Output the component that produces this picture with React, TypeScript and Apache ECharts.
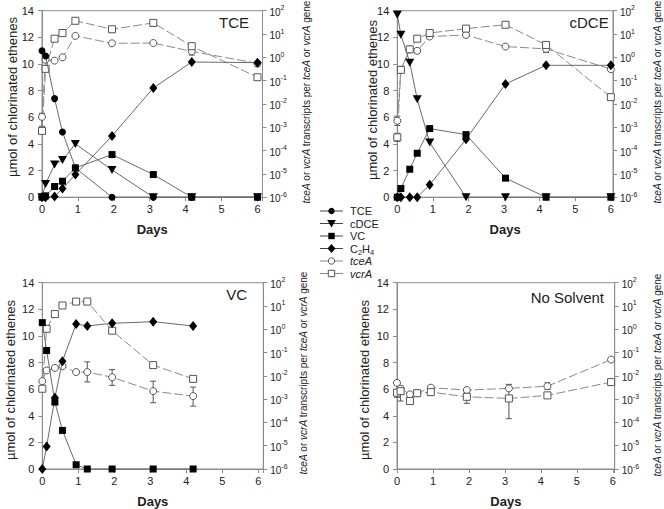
import React, { useEffect, useRef } from "react";
import * as echarts from "echarts";

// ---------- data ----------
const panelTitles = ["TCE", "cDCE", "VC", "No Solvent"];
const seriesNames = ["TCE", "cDCE", "VC", "C2H4", "tceA", "vcrA"];
const leftTicks = [0, 2, 4, 6, 8, 10, 12, 14];

// Panel 1: TCE
const days1 = [0, 0.1, 0.35, 0.57, 0.93, 1.95, 3.1, 4.17, 6.0];
const p1TCE = [11.0, 10.6, 7.4, 4.9, 2.2, 0, 0, 0, 0];
const p1cDCE = [0, 1.0, 2.45, 2.8, 4.0, 2.05, 0, 0, 0];
const p1VC = [0, 0.1, 0.8, 1.2, 2.2, 3.2, 1.7, 0, 0];
const p1C2H4 = [0, 0, 0.05, 0.65, 1.7, 4.6, 8.2, 10.15, 10.1];
const p1tceA = [2.8e-3, 0.8, 0.72, 1.0, 8.3, 4.0, 4.1, 1.8, 0.55];
const p1vcrA = [7e-4, 0.32, 6.3, 11, 37, 16, 30, 3.0, 0.14];
const p1tceAErr = [[0, 1.1e-3, 4e-3], [4.17, 1.25, 2.5], [6.0, 0.4, 0.65]];
const p1vcrAErr = [[3.1, 22, 38]];

// Panel 2: cDCE
const days2 = [0, 0.1, 0.35, 0.56, 0.91, 1.93, 3.04, 4.18, 6.0];
const p2cDCE = [13.7, 12.2, 10.1, 7.35, 4.1, 0, 0, 0, 0];
const p2VC = [0, 0.65, 2.1, 3.3, 5.15, 4.7, 1.43, 0, 0];
const p2C2H4 = [0, 0, 0, 0, 0.93, 4.35, 8.5, 9.9, 9.9];
const p2tceA = [1.9e-3, 0.29, 2.2, 1.9, 7.8, 9.1, 2.9, 2.3, 0.31];
const p2vcrA = [3.7e-4, 0.29, 2.2, 6.3, 11, 17, 25, 3.4, 0.0195];
const p2tceAErr = [[0, 1.2e-3, 3e-3], [0.56, 1.5, 2.4], [4.18, 1.6, 3.2]];
const p2vcrAErr = [[0, 2.5e-4, 5.5e-4]];

// Panel 3: VC
const days3 = [0, 0.12, 0.35, 0.56, 0.94, 1.25, 1.94, 3.08, 4.19];
const p3VC = [11.0, 8.9, 5.03, 2.9, 0.32, 0, 0, 0, 0];
const p3C2H4 = [0, 1.7, 5.35, 8.1, 10.9, 10.75, 10.95, 11.07, 10.75];
const p3tceA = [5.9e-3, 0.017, 0.022, 0.026, 0.0145, 0.0145, 8.7e-3, 2.2e-3, 1.35e-3];
const p3vcrA = [2.8e-3, 1.05, 4.5, 10.5, 15.5, 15.5, 0.87, 0.029, 7.4e-3];
const p3tceAErr = [[1.25, 5.5e-3, 0.04], [1.94, 3.9e-3, 0.0186], [3.08, 7e-4, 5.9e-3], [4.19, 5e-4, 3.3e-3]];
const p3vcrAErr = [[4.19, 5.5e-3, 9.5e-3]];

// Panel 4: No Solvent
const days4 = [0, 0.1, 0.36, 0.56, 0.94, 1.94, 3.11, 4.18, 5.95];
const p4tceA = [5.0e-3, 2.8e-3, 1.6e-3, 1.8e-3, 3.1e-3, 2.45e-3, 2.9e-3, 3.6e-3, 0.05];
const p4vcrA = [1.9e-3, 2.2e-3, 8.3e-4, 1.8e-3, 2.0e-3, 1.26e-3, 1.07e-3, 1.45e-3, 5.4e-3];
const p4tceAErr = [[4.18, 2.6e-3, 5e-3], [0.94, 2.5e-3, 3.8e-3], [0, 4e-3, 6.2e-3]];
const p4vcrAErr = [[3.11, 1.45e-4, 4.3e-3], [1.94, 6.6e-4, 1.9e-3], [0.1, 8.3e-4, 3.6e-3], [0, 1.2e-3, 2.6e-3], [0.94, 1.5e-3, 2.6e-3]];

// ---------- styles ----------
const FONT = "Liberation Sans, Arial, Helvetica, sans-serif";
const AXIS_COLOR = "#8c8c8c";
const LINE_COLOR = "#6b6b6b";
const DASH_COLOR = "#8a8a8a";
const OPEN_BORDER = "#555";

type Sty = { symbol: string; size: any; rotate?: number; open: boolean };
const styles: Record<string, Sty> = {
  TCE: { symbol: "circle", size: 7, open: false },
  cDCE: { symbol: "triangle", size: [9, 8], rotate: 180, open: false },
  VC: { symbol: "rect", size: 7, open: false },
  C2H4: { symbol: "diamond", size: [8, 10], open: false },
  tceA: { symbol: "circle", size: 7, open: true },
  vcrA: { symbol: "rect", size: 7, open: true },
};

const grids = [
  { left: 42, top: 10.7, width: 220.5, height: 186.5, xMax: 6.14 },
  { left: 397.3, top: 10.7, width: 215.7, height: 186.5, xMax: 6.06 },
  { left: 42.3, top: 282.7, width: 221, height: 187.3, xMax: 6.14 },
  { left: 397, top: 282.7, width: 217.7, height: 187.3, xMax: 6.05 },
];

type PanelData = {
  days: number[];
  left: [string, number[]][];
  right: [string, number[]][];
  err: [string, number[][]][];
};

const panels: PanelData[] = [
  {
    days: days1,
    left: [["TCE", p1TCE], ["cDCE", p1cDCE], ["VC", p1VC], ["C2H4", p1C2H4]],
    right: [["tceA", p1tceA], ["vcrA", p1vcrA]],
    err: [["tceA", p1tceAErr], ["vcrA", p1vcrAErr]],
  },
  {
    days: days2,
    left: [["cDCE", p2cDCE], ["VC", p2VC], ["C2H4", p2C2H4]],
    right: [["tceA", p2tceA], ["vcrA", p2vcrA]],
    err: [["tceA", p2tceAErr], ["vcrA", p2vcrAErr]],
  },
  {
    days: days3,
    left: [["VC", p3VC], ["C2H4", p3C2H4]],
    right: [["tceA", p3tceA], ["vcrA", p3vcrA]],
    err: [["tceA", p3tceAErr], ["vcrA", p3vcrAErr]],
  },
  {
    days: days4,
    left: [],
    right: [["tceA", p4tceA], ["vcrA", p4vcrA]],
    err: [["tceA", p4tceAErr], ["vcrA", p4vcrAErr]],
  },
];

function lineSeries(name: string, days: number[], vals: number[], xi: number, yi: number, dashed: boolean) {
  const s = styles[name];
  return {
    type: "line",
    name,
    xAxisIndex: xi,
    yAxisIndex: yi,
    data: days.map((d, i) => [d, vals[i]]),
    symbol: s.symbol,
    symbolSize: s.size,
    symbolRotate: s.rotate || 0,
    showAllSymbol: true,
    clip: false,
    silent: true,
    z: dashed ? 2 : 3,
    lineStyle: dashed
      ? { color: DASH_COLOR, width: 1, type: [9, 3] }
      : { color: LINE_COLOR, width: 1 },
    itemStyle: s.open
      ? { color: "#fff", borderColor: OPEN_BORDER, borderWidth: 1 }
      : { color: "#000", borderWidth: 0 },
  };
}

function errSeries(errs: number[][], xi: number, yi: number) {
  return {
    type: "custom",
    xAxisIndex: xi,
    yAxisIndex: yi,
    data: errs,
    silent: true,
    clip: false,
    z: 1,
    renderItem: (params: any, api: any) => {
      const x = api.value(0);
      const lo = api.value(1);
      const hi = api.value(2);
      const a = api.coord([x, hi]);
      const b = api.coord([x, lo]);
      const st = { stroke: "#555", lineWidth: 1 };
      return {
        type: "group",
        children: [
          { type: "line", shape: { x1: a[0], y1: a[1], x2: b[0], y2: b[1] }, style: st },
          { type: "line", shape: { x1: a[0] - 3, y1: a[1], x2: a[0] + 3, y2: a[1] }, style: st },
          { type: "line", shape: { x1: b[0] - 3, y1: b[1], x2: b[0] + 3, y2: b[1] }, style: st },
        ],
      };
    },
  };
}

function buildOption() {
  const grid: any[] = [];
  const xAxis: any[] = [];
  const yAxis: any[] = [];
  const series: any[] = [];
  const graphic: any[] = [];

  const axisLine = { show: true, lineStyle: { color: AXIS_COLOR, width: 1 } };
  const axisTick = { show: true, inside: false, length: 4, lineStyle: { color: AXIS_COLOR } };

  grids.forEach((g, i) => {
    grid.push({
      left: g.left, top: g.top, width: g.width, height: g.height,
      show: true, borderColor: AXIS_COLOR, borderWidth: 1, backgroundColor: "transparent",
      containLabel: false,
    });
    xAxis.push({
      type: "value", gridIndex: i, min: 0, max: g.xMax, interval: 1,
      axisLine, axisTick,
      splitLine: { show: false },
      axisLabel: {
        fontSize: 11, color: "#222", fontFamily: FONT, margin: 6,
        formatter: (v: number) => (v <= 6 && Math.abs(v - Math.round(v)) < 1e-9 ? String(v) : ""),
      },
      name: "Days", nameLocation: "middle", nameGap: 26,
      nameTextStyle: { fontSize: 13, fontWeight: "bold", color: "#222", fontFamily: FONT },
    });
    yAxis.push({
      type: "value", gridIndex: i, min: leftTicks[0], max: leftTicks[leftTicks.length - 1], interval: 2,
      position: "left", axisLine, axisTick,
      splitLine: { show: false },
      axisLabel: { fontSize: 11, color: "#222", fontFamily: FONT, margin: 8 },
    });
    yAxis.push({
      type: "log", logBase: 10, gridIndex: i, min: 1e-6, max: 100, splitNumber: 8,
      position: "right", axisLine, axisTick,
      splitLine: { show: false }, minorTick: { show: false },
      axisLabel: {
        margin: 7,
        formatter: (v: number) => {
          const e = Math.round(Math.log10(v));
          return "{b|10}{s|" + e + "}";
        },
        rich: {
          b: { fontSize: 10, color: "#222", fontFamily: FONT, lineHeight: 13, verticalAlign: "bottom" },
          s: { fontSize: 7, color: "#222", fontFamily: FONT, lineHeight: 13, verticalAlign: "top" },
        },
      },
    });

    const p = panels[i];
    p.err.forEach(([, errs]) => series.push(errSeries(errs, i, 2 * i + 1)));
    p.right.forEach(([n, vals]) => series.push(lineSeries(n, p.days, vals, i, 2 * i + 1, true)));
    p.left.forEach(([n, vals]) => series.push(lineSeries(n, p.days, vals, i, 2 * i, false)));
  });

  // panel titles
  const titlePos = [
    [249, 22.7], [608.7, 22.7], [247, 294], [604, 297],
  ];
  panelTitles.forEach((t, i) => {
    graphic.push({
      type: "text", x: titlePos[i][0], y: titlePos[i][1], silent: true,
      style: { text: t, fontSize: 15, fontFamily: FONT, fill: "#222", align: "right", verticalAlign: "middle" },
    });
  });

  // axis titles
  const leftTitlePos = [[12, 97], [372, 100], [10, 380], [364, 380]];
  const rightTitlePos = [[306, 102], [657, 102], [303, 373], [657, 375]];
  for (let i = 0; i < 4; i++) {
    graphic.push({
      type: "text", x: leftTitlePos[i][0], y: leftTitlePos[i][1], rotation: Math.PI / 2, silent: true,
      style: {
        text: "µmol of chlorinated ethenes", fontSize: 13, fontFamily: FONT, fill: "#222",
        align: "center", verticalAlign: "middle",
      },
    });
    graphic.push({
      type: "text", x: rightTitlePos[i][0], y: rightTitlePos[i][1], rotation: Math.PI / 2, silent: true,
      style: {
        text: "{i|tceA} or {i|vcrA} transcripts per {i|tceA} or {i|vcrA} gene",
        fontSize: 10, fontFamily: FONT, fill: "#222", align: "center", verticalAlign: "middle",
        rich: { i: { fontStyle: "italic", fontSize: 10, fontFamily: FONT, fill: "#222" } },
      },
    });
  }

  // legend
  const lx0 = 320, lx1 = 343, ltx = 350, ly0 = 211, lgap = 12.5;
  seriesNames.forEach((n, k) => {
    const y = ly0 + k * lgap;
    const cx = (lx0 + lx1) / 2;
    const s = styles[n];
    graphic.push({
      type: "line", silent: true,
      shape: { x1: lx0, y1: y, x2: lx1, y2: y },
      style: { stroke: s.open ? DASH_COLOR : "#444", lineWidth: 1 },
    });
    const fill = s.open ? "#fff" : "#000";
    const stroke = s.open ? OPEN_BORDER : undefined;
    let mk: any;
    if (s.symbol === "circle") {
      mk = { type: "circle", shape: { cx, cy: y, r: 3.2 } };
    } else if (s.symbol === "rect") {
      mk = { type: "rect", shape: { x: cx - 3.2, y: y - 3.2, width: 6.4, height: 6.4 } };
    } else if (s.symbol === "triangle") {
      mk = { type: "polygon", shape: { points: [[cx - 4.3, y - 3.5], [cx + 4.3, y - 3.5], [cx, y + 4]] } };
    } else {
      mk = { type: "polygon", shape: { points: [[cx, y - 4.5], [cx + 4, y], [cx, y + 4.5], [cx - 4, y]] } };
    }
    mk.silent = true;
    mk.style = { fill, stroke, lineWidth: 1 };
    graphic.push(mk);
    let text = n;
    if (n === "C2H4") text = "C{sub|2}H{sub|4}";
    if (n === "tceA" || n === "vcrA") text = "{i|" + n + "}";
    graphic.push({
      type: "text", x: ltx, y, silent: true,
      style: {
        text, fontSize: 11, fontFamily: FONT, fill: "#222", align: "left", verticalAlign: "middle",
        rich: {
          sub: { fontSize: 7.5, fontFamily: FONT, fill: "#222", verticalAlign: "bottom", lineHeight: 15 },
          i: { fontStyle: "italic", fontSize: 11, fontFamily: FONT, fill: "#222" },
        },
      },
    });
  });

  return {
    animation: false,
    backgroundColor: "#fff",
    textStyle: { fontFamily: FONT },
    grid, xAxis, yAxis, series, graphic,
  };
}

export default function App() {
  const ref = useRef<HTMLDivElement>(null);
  useEffect(() => {
    if (!ref.current) return;
    const chart = echarts.init(ref.current, null, { renderer: "svg" });
    chart.setOption(buildOption() as any);
    return () => chart.dispose();
  }, []);
  return (
    <div
      ref={ref}
      style={{ position: "fixed", left: 0, top: 0, width: 664, height: 509, background: "#fff" }}
    />
  );
}
